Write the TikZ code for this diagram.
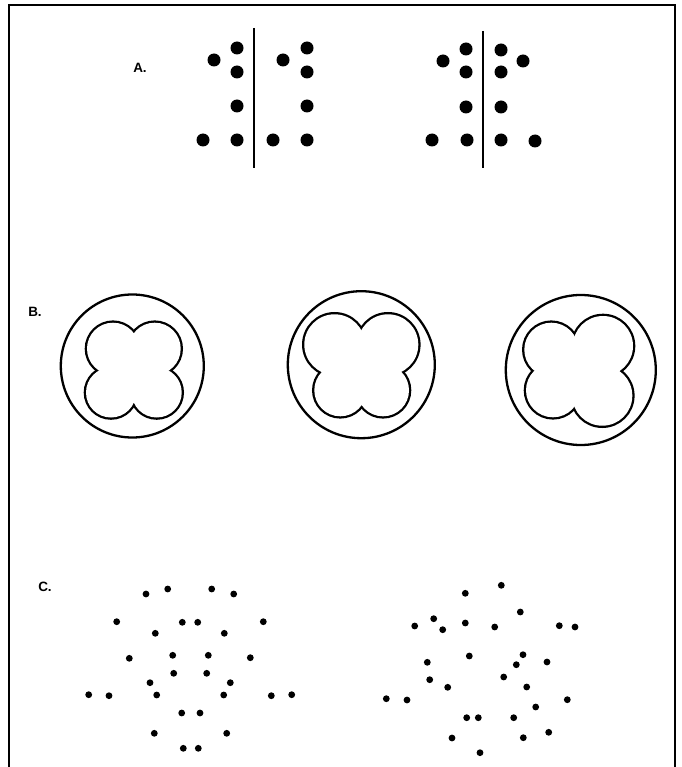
\documentclass[tikz,border=0pt]{standalone}
\usepackage{fontspec}
\setmainfont{Liberation Sans}
\usepackage{tikz}

% four round lobes (UL, UR, LL, LR), outer outline only
\newcommand{\clover}[1]{%
  \foreach \lx/\ly/\lr [count=\k] in {#1} {
    \draw[lobe] (\lx,\ly) circle[radius=\lr pt];
    \coordinate (lobe\k) at (\lx,\ly);
  }
  \foreach \lx/\ly/\lr in {#1} \fill[white] (\lx,\ly) circle[radius=\lr pt];
  \fill[white] (lobe1) -- (lobe2) -- (lobe4) -- (lobe3) -- cycle;
}

\begin{document}
\begin{tikzpicture}[x=1pt, y=-1pt,
    frame/.style={line width=2.2pt},
    lbl/.style={font=\fontsize{13.5}{15}\selectfont\bfseries, inner sep=0pt},
    sepline/.style={line width=2.6pt},
    ring/.style={line width=2.3pt},
    lobe/.style={line width=4.6pt},
    bigdot/.style={fill=black},
    smalldot/.style={fill=black}
]
    \useasboundingbox (0,0) rectangle (681,767);
    \draw[frame] (9,767) -- (9,5) -- (675,5) -- (675,767);

    % A: two dot patterns with a dividing line
    \node[lbl] (labA) at (140,68) {A.};
    \draw[sepline] (254,28) -- (254,168);
    \draw[sepline] (483,31) -- (483,168);
    \foreach \dx/\dy in {214/60, 237/48, 237/72, 237/106, 203/140, 237/140,
                         283/60, 307/48, 307/72, 307/106, 273/140, 307/140,
                         443/61, 466/49, 466/72, 466/107, 432/140, 467/140,
                         501/50, 501/72, 523/61, 501/107, 501/140, 535/141}
        \fill[bigdot] (\dx,\dy) circle[radius=6.5pt];

    % B: rings with cloverleaf shapes
    \node[lbl] (labB) at (35,312) {B.};
    \draw[ring] (132.3,366) circle[radius=71.5pt];
    \draw[ring] (361.3,364.7) circle[radius=73.5pt];
    \draw[ring] (580.8,370) circle[radius=75pt];
    \clover{113/348.7/26, 154.7/348.7/26, 111/392.5/25, 156.7/392.5/25}
    \clover{334.6/344.6/30.3, 388/344.6/30.3, 340.3/390.3/26, 383/390.3/26}
    \clover{551.3/349.7/27, 603/346/30, 553/390.3/27, 602.3/395.7/30}

    % C: two dot fields
    \node[lbl] (labC) at (45,587) {C.};
    \foreach \dx/\dy in {146/594, 167.7/589, 211.7/589, 233.7/594,
                         116.7/621.7, 182.3/622.3, 197.7/622.3, 263.3/621.7,
                         155.3/633.3, 224.3/633.3, 129.3/658.3, 172.7/655.3,
                         208.3/655.3, 250.3/657.7, 173.7/673.3, 206.7/673.3,
                         150/682.7, 230.3/682.7, 88.7/694.7, 109/695.7,
                         156.7/695, 223.7/695, 271.3/695.7, 291.7/694.7,
                         181.7/713, 200/713, 154.3/733.3, 226.7/733.3,
                         183.3/748.3, 198.3/748.3}
        \fill[smalldot] (\dx,\dy) circle[radius=3.4pt];
    \foreach \dx/\dy in {501.3/585.3, 465.3/593.3, 520.3/612, 433.7/618.7,
                         414.7/626, 442.7/629.7, 465.3/623, 494.7/627,
                         559.3/625.7, 575/627, 469.3/656, 523/654.7,
                         427.3/662.3, 516.3/664.7, 547/662, 429.7/679.7,
                         503.7/677, 447.7/687.3, 526.7/687, 386.3/698.7,
                         407/700, 567.3/699.7, 535.7/707, 466.7/717.7,
                         478.3/717.7, 513.7/717.7, 452/738, 523.3/737.7,
                         548.7/732.3, 480/752.7}
        \fill[smalldot] (\dx,\dy) circle[radius=3.4pt];
\end{tikzpicture}
\end{document}
